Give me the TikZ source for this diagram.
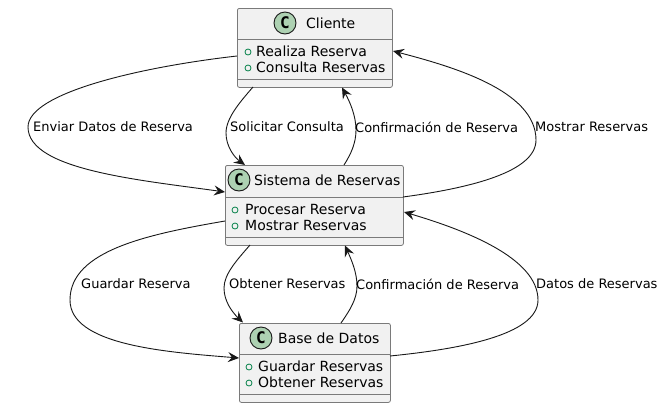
\documentclass[tikz,border=0pt]{standalone}
\usepackage{fontspec}
\setmainfont{DejaVu Sans}
\newfontfamily\spotfont{DejaVu Sans Mono}
\usetikzlibrary{arrows.meta}
\definecolor{boxfill}{HTML}{F1F1F1}
\definecolor{boxline}{HTML}{7A7A7A}
\definecolor{spotfill}{HTML}{ADD1B2}
\definecolor{inkc}{HTML}{181818}
\definecolor{vis}{HTML}{038048}
\tikzset{
  classbox/.style={draw=boxline,fill=boxfill,line width=0.8pt,rounded corners=2pt,inner sep=0pt,anchor=north west},
  sep/.style={draw=boxline,line width=0.8pt},
  spot/.style={circle,draw=inkc,fill=spotfill,line width=0.9pt,minimum size=22pt,inner sep=0pt,font=\fontsize{16}{16}\spotfont\bfseries,text=black},
  vismark/.style={circle,draw=vis,line width=0.8pt,minimum size=6pt,inner sep=0pt},
  title/.style={anchor=west,inner sep=0pt,font=\fontsize{14}{14}\selectfont,text=black},
  member/.style={anchor=west,inner sep=0pt,font=\fontsize{14}{14}\selectfont,text=black},
  lbl/.style={anchor=west,inner sep=0pt,font=\fontsize{13}{13}\selectfont,text=black},
  conn/.style={draw=inkc,line width=0.9pt,-{Stealth[length=11pt,width=10pt,inset=4pt]}},
}
\begin{document}
\begin{tikzpicture}[x=1pt,y=-1pt]
\useasboundingbox (0,0) rectangle (665,408);
\fill[white] (0,0) rectangle (665,408);
% class boxes
\node[classbox,minimum width=155pt,minimum height=79pt] (cli) at (237,8) {};
\node[classbox,minimum width=178pt,minimum height=80pt] (sis) at (225,165) {};
\node[classbox,minimum width=151pt,minimum height=79pt] (bas) at (239,323) {};
\draw[sep] (237,39) -- (392,39) (237,79) -- (392,79);
\draw[sep] (225,197) -- (403,197) (225,237) -- (403,237);
\draw[sep] (239,354) -- (390,354) (239,394) -- (390,394);
% headers
\node[spot] (cliS) at (285,23) {C};
\node[title] (cliT) at (306,23) {Cliente};
\node[spot] (sisS) at (239,180) {C};
\node[title] (sisT) at (254,180) {Sistema de Reservas};
\node[spot] (basS) at (261,338) {C};
\node[title] (basT) at (278,338) {Base de Datos};
% members
\node[vismark] (m1) at (248,52) {};
\node[member] (m1t) at (256,51) {Realiza Reserva};
\node[vismark] (m2) at (248,68) {};
\node[member] (m2t) at (256,67) {Consulta Reservas};
\node[vismark] (m3) at (235,210) {};
\node[member] (m3t) at (245,209) {Procesar Reserva};
\node[vismark] (m4) at (235,226) {};
\node[member] (m4t) at (245,225) {Mostrar Reservas};
\node[vismark] (m5) at (249,367) {};
\node[member] (m5t) at (258,366) {Guardar Reservas};
\node[vismark] (m6) at (249,383) {};
\node[member] (m6t) at (258,382) {Obtener Reservas};
% ports
\coordinate (cliL) at (237,56);
\coordinate (cliB1) at (253,87);
\coordinate (cliB2) at (342,87.5);
\coordinate (cliR) at (393,51);
\coordinate (sisTa) at (245,165);
\coordinate (sisTb) at (344,165);
\coordinate (sisLa) at (225,192);
\coordinate (sisLb) at (225,221);
\coordinate (sisRa) at (403,197);
\coordinate (sisRb) at (404,212);
\coordinate (sisBa) at (250,245);
\coordinate (sisBb) at (345,245.5);
\coordinate (basTa) at (243,322.5);
\coordinate (basTb) at (341,323);
\coordinate (basL) at (239,358);
\coordinate (basR) at (390,356);
% connectors
\draw[conn] (cliL) .. controls (140,67) and (28,93) .. (28,127) .. controls (28,170) and (140,180) .. (sisLa);
\draw[conn] (cliB1) .. controls (240,102) and (226,118) .. (226,133) .. controls (226,146) and (234,157) .. (sisTa);
\draw[conn] (sisTb) .. controls (351,154) and (356,143) .. (356,130) .. controls (356,116) and (350,102) .. (cliB2);
\draw[conn] (sisRa) .. controls (470,188) and (536,172) .. (536,140) .. controls (536,90) and (450,66) .. (cliR);
\draw[conn] (sisLb) .. controls (150,234) and (70,250) .. (70,300) .. controls (70,345) and (165,352) .. (basL);
\draw[conn] (sisBa) .. controls (237,260) and (224,274) .. (224,288) .. controls (224,301) and (232,312) .. (basTa);
\draw[conn] (basTb) .. controls (350,310) and (357,299) .. (357,286) .. controls (357,272) and (351,259) .. (sisBb);
\draw[conn] (basR) .. controls (460,349) and (538,335) .. (538,300) .. controls (538,258) and (465,230) .. (sisRb);
% labels
\node[lbl] (l1) at (33,127) {Enviar Datos de Reserva};
\node[lbl] (l2) at (230,127) {Solicitar Consulta};
\node[lbl] (l3) at (355,127) {Confirmación de Reserva};
\node[lbl] (l4) at (535,127) {Mostrar Reservas};
\node[lbl] (l5) at (81,284) {Guardar Reserva};
\node[lbl] (l6) at (229,284) {Obtener Reservas};
\node[lbl] (l7) at (356,284) {Confirmación de Reserva};
\node[lbl] (l8) at (536,284) {Datos de Reservas};
\end{tikzpicture}
\end{document}
